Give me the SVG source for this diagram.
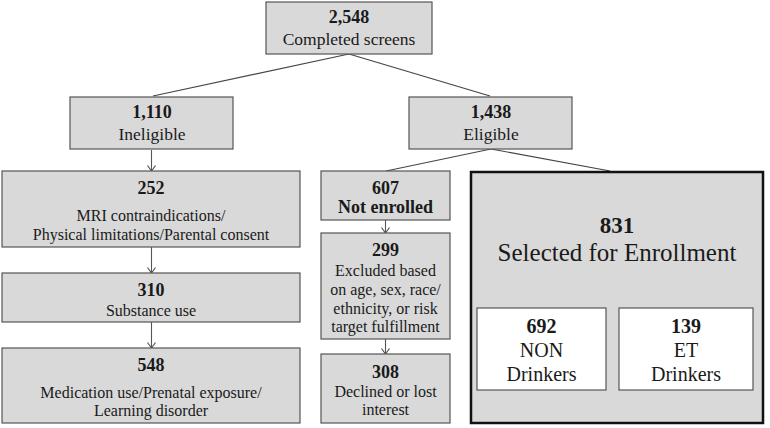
<svg xmlns="http://www.w3.org/2000/svg" width="770" height="428" viewBox="0 0 770 428">
<defs>
<marker id="arr" markerWidth="10" markerHeight="10" refX="6.5" refY="5" orient="auto" markerUnits="userSpaceOnUse" viewBox="0 0 10 10">
<path d="M1,1 L6.5,5 L1,9" fill="none" stroke="#555" stroke-width="1.2"/>
</marker>
<style>
.box{fill:#d9d9d9;stroke:#555;stroke-width:1.2}
.big{fill:#d9d9d9;stroke:#111;stroke-width:2.5}
.wbox{fill:#fff;stroke:#555;stroke-width:1.2}
.n{font-weight:bold;font-size:18px}
.l{font-size:17.5px}
.s{font-size:16px}
.m{font-size:20px}
.ln{fill:none;stroke:#444;stroke-width:1.1}
.ar{fill:none;stroke:#555;stroke-width:1.1}
</style>
</defs>
<rect width="770" height="428" fill="#fff"/>
<g id="connectors">
<line class="ln" x1="349" y1="54" x2="153" y2="96"/>
<line class="ln" x1="349" y1="54" x2="490" y2="96"/>
<line class="ln" x1="491" y1="149" x2="386" y2="171"/>
<line class="ln" x1="491" y1="149" x2="610" y2="171"/>
<path class="ar" d="M151.5,150 V171" marker-end="url(#arr)"/>
<path class="ar" d="M151.5,247 V273" marker-end="url(#arr)"/>
<path class="ar" d="M151.5,322 V348" marker-end="url(#arr)"/>
<path class="ar" d="M385.5,220 V233" marker-end="url(#arr)"/>
<path class="ar" d="M385.5,339 V354" marker-end="url(#arr)"/>
</g>
<g font-family="'Liberation Serif', 'Times New Roman', serif" fill="#1a1a1a" text-anchor="middle">
<g id="completed">
<rect class="box" x="266" y="2" width="166" height="52"/>
<text class="n" x="349" y="23">2,548</text>
<text class="l" x="349" y="45">Completed screens</text>
</g>
<g id="ineligible">
<rect class="box" x="70" y="97" width="163" height="52"/>
<text class="n" x="152" y="118">1,110</text>
<text class="l" x="152" y="140">Ineligible</text>
</g>
<g id="eligible">
<rect class="box" x="409" y="97" width="163" height="52"/>
<text class="n" x="491" y="118">1,438</text>
<text class="l" x="491" y="140">Eligible</text>
</g>
<g id="mri">
<rect class="box" x="2" y="171" width="298" height="76"/>
<text class="n" x="151" y="194">252</text>
<text class="s" x="151" y="221">MRI contraindications/</text>
<text class="s" x="151" y="240">Physical limitations/Parental consent</text>
</g>
<g id="substance">
<rect class="box" x="2" y="273" width="298" height="49"/>
<text class="n" x="151" y="296">310</text>
<text class="s" x="151" y="316">Substance use</text>
</g>
<g id="medication">
<rect class="box" x="2" y="348" width="298" height="75"/>
<text class="n" x="151" y="371">548</text>
<text class="s" x="151" y="398">Medication use/Prenatal exposure/</text>
<text class="s" x="151" y="416">Learning disorder</text>
</g>
<g id="notenrolled">
<rect class="box" x="321" y="171" width="129" height="49"/>
<text class="n" x="385.5" y="194">607</text>
<text class="n" x="385.5" y="213" font-size="16">Not enrolled</text>
</g>
<g id="excluded">
<rect class="box" x="321" y="233" width="129" height="106"/>
<text class="n" x="385.5" y="256">299</text>
<text class="s" x="385.5" y="276">Excluded based</text>
<text class="s" x="385.5" y="295">on age, sex, race/</text>
<text class="s" x="385.5" y="314">ethnicity, or risk</text>
<text class="s" x="385.5" y="332">target fulfillment</text>
</g>
<g id="declined">
<rect class="box" x="321" y="354" width="129" height="69"/>
<text class="n" x="385.5" y="378">308</text>
<text class="s" x="385.5" y="397">Declined or lost</text>
<text class="s" x="385.5" y="415">interest</text>
</g>
<g id="selected">
<rect class="big" x="471" y="172" width="292" height="251"/>
<text x="617" y="233" font-weight="bold" font-size="23">831</text>
<text x="617" y="261" font-size="25">Selected for Enrollment</text>
</g>
<g id="non">
<rect class="wbox" x="477" y="308" width="129" height="82"/>
<text x="541.5" y="333" font-weight="bold" font-size="20">692</text>
<text class="m" x="541.5" y="357">NON</text>
<text class="m" x="541.5" y="381">Drinkers</text>
</g>
<g id="et">
<rect class="wbox" x="619" y="308" width="134" height="82"/>
<text x="686" y="333" font-weight="bold" font-size="20">139</text>
<text class="m" x="686" y="357">ET</text>
<text class="m" x="686" y="381">Drinkers</text>
</g>
</g>
</svg>
